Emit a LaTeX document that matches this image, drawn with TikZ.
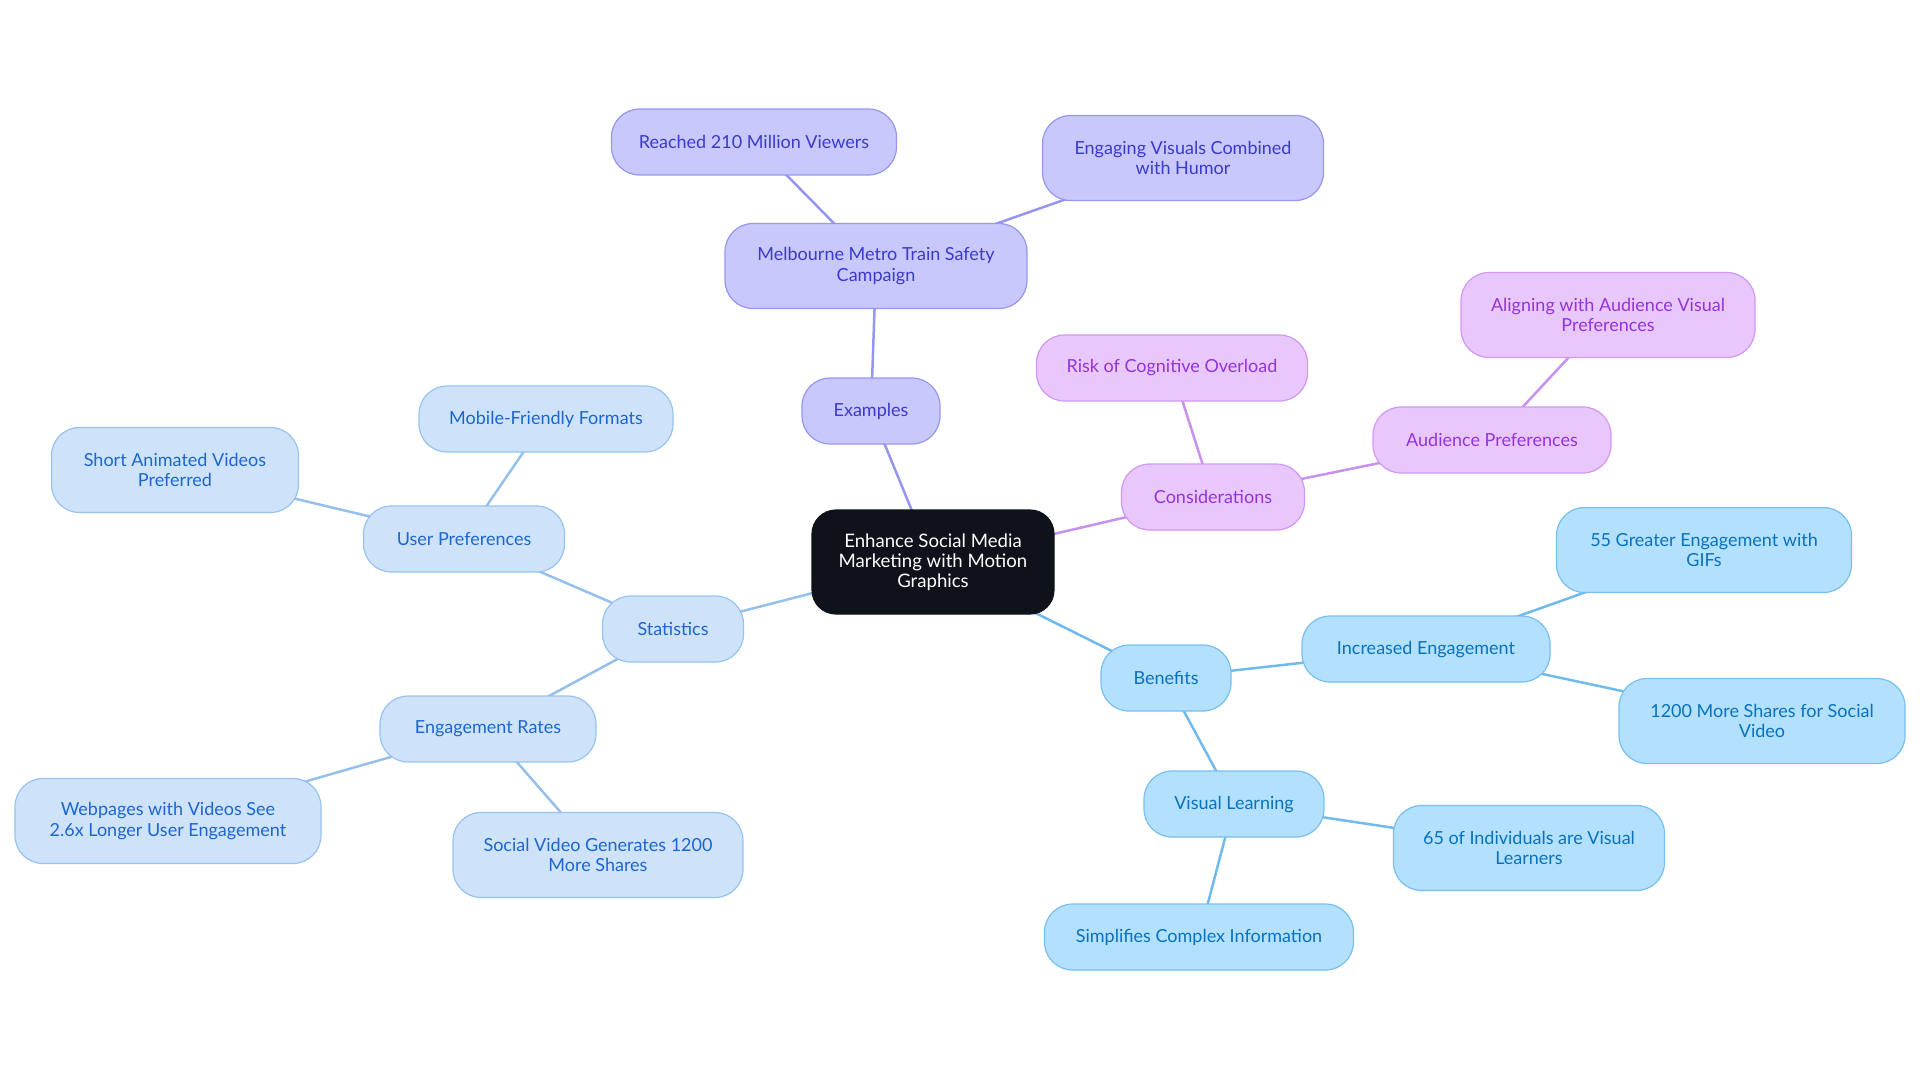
\documentclass[tikz,border=0pt]{standalone}
\usepackage{fontspec}
\setmainfont{Lato}
\usetikzlibrary{backgrounds}
\definecolor{statfill}{RGB}{206,227,250}
\definecolor{statdraw}{RGB}{150,195,240}
\definecolor{stattext}{RGB}{28,102,208}
\definecolor{statedge}{RGB}{150,192,236}
\definecolor{benfill}{RGB}{179,224,253}
\definecolor{bendraw}{RGB}{120,190,240}
\definecolor{bentext}{RGB}{8,114,190}
\definecolor{benedge}{RGB}{112,186,236}
\definecolor{exfill}{RGB}{200,200,252}
\definecolor{exdraw}{RGB}{150,150,240}
\definecolor{extext}{RGB}{58,58,205}
\definecolor{exedge}{RGB}{150,150,240}
\definecolor{consfill}{RGB}{232,200,252}
\definecolor{consdraw}{RGB}{210,150,245}
\definecolor{constext}{RGB}{150,50,220}
\definecolor{consedge}{RGB}{200,145,240}
\definecolor{darkfill}{RGB}{13,18,27}
\begin{document}
\begin{tikzpicture}[x=0.5pt,y=-0.5pt,
  box/.style={draw, line width=0.6pt, rounded corners=14pt, align=center, inner sep=0pt,
    font=\fontsize{9}{10.4}\selectfont},
  one/.style={minimum height=33pt},
  two/.style={minimum height=42.5pt},
  stat/.style={box, fill=statfill, draw=statdraw, text=stattext},
  ben/.style={box, fill=benfill, draw=bendraw, text=bentext},
  exa/.style={box, fill=exfill, draw=exdraw, text=extext},
  cons/.style={box, fill=consfill, draw=consdraw, text=constext},
  root/.style={box, fill=darkfill, draw=darkfill, text=white, rounded corners=12pt,
    font=\fontsize{9.3}{10}\selectfont},
  sedge/.style={draw=statedge, line width=1.25pt},
  bedge/.style={draw=benedge, line width=1.25pt},
  eedge/.style={draw=exedge, line width=1.25pt},
  cedge/.style={draw=consedge, line width=1.25pt}
]
\useasboundingbox (0,0) rectangle (1920,1083);
\node[root, minimum width=121pt, minimum height=52pt] (c) at (933,562) {Enhance Social Media\\Marketing with Motion\\Graphics};
% Examples
\node[exa, one, minimum width=69pt] (ex) at (871,411) {Examples};
\node[exa, two, minimum width=151pt] (mel) at (876,266) {Melbourne Metro Train Safety\\Campaign};
\node[exa, one, minimum width=142.5pt] (reach) at (754,142) {Reached 210 Million Viewers};
\node[exa, two, minimum width=140.5pt] (engv) at (1183,158) {Engaging Visuals Combined\\with Humor};
% Considerations
\node[cons, one, minimum width=91.5pt] (cons) at (1213,497) {Considerations};
\node[cons, one, minimum width=135.5pt] (risk) at (1172,368) {Risk of Cognitive Overload};
\node[cons, one, minimum width=119pt] (aud) at (1492,440) {Audience Preferences};
\node[cons, two, minimum width=147pt] (align) at (1608,315) {Aligning with Audience Visual\\Preferences};
% Benefits
\node[ben, one, minimum width=65pt] (ben) at (1166,678) {Benefits};
\node[ben, one, minimum width=124pt] (inc) at (1426,649) {Increased Engagement};
\node[ben, two, minimum width=147.5pt] (gifs) at (1704,550) {55 Greater Engagement with\\GIFs};
\node[ben, two, minimum width=143pt] (shares) at (1762,721) {1200 More Shares for Social\\Video};
\node[ben, one, minimum width=90pt] (vis) at (1234,804) {Visual Learning};
\node[ben, two, minimum width=135.5pt] (ind) at (1529,848) {65 of Individuals are Visual\\Learners};
\node[ben, one, minimum width=154.5pt] (simp) at (1199,937) {Simplifies Complex Information};
% Statistics
\node[stat, one, minimum width=70.5pt] (stat) at (673,629) {Statistics};
\node[stat, one, minimum width=100.5pt] (user) at (464,539) {User Preferences};
\node[stat, one, minimum width=127pt] (mob) at (546,419) {Mobile-Friendly Formats};
\node[stat, two, minimum width=123.5pt] (short) at (175,470) {Short Animated Videos\\Preferred};
\node[stat, one, minimum width=108pt] (er) at (488,729) {Engagement Rates};
\node[stat, two, minimum width=153pt] (web) at (168,821) {Webpages with Videos See\\2.6x Longer User Engagement};
\node[stat, two, minimum width=145pt] (svg) at (598,855) {Social Video Generates 1200\\More Shares};
% edges
\begin{scope}[on background layer]
\draw[eedge] (c.center) -- (ex.center);
\draw[eedge] (ex.center) -- (mel.center);
\draw[eedge] (mel.center) -- (reach.center);
\draw[eedge] (mel.center) -- (engv.center);
\draw[cedge] (c.center) -- (cons.center);
\draw[cedge] (cons.center) -- (risk.center);
\draw[cedge] (cons.center) -- (aud.center);
\draw[cedge] (aud.center) -- (align.center);
\draw[bedge] (c.center) -- (ben.center);
\draw[bedge] (ben.center) -- (inc.center);
\draw[bedge] (inc.center) -- (gifs.center);
\draw[bedge] (inc.center) -- (shares.center);
\draw[bedge] (ben.center) -- (vis.center);
\draw[bedge] (vis.center) -- (ind.center);
\draw[bedge] (vis.center) -- (simp.center);
\draw[sedge] (c.center) -- (stat.center);
\draw[sedge] (stat.center) -- (user.center);
\draw[sedge] (user.center) -- (mob.center);
\draw[sedge] (user.center) -- (short.center);
\draw[sedge] (stat.center) -- (er.center);
\draw[sedge] (er.center) -- (web.center);
\draw[sedge] (er.center) -- (svg.center);
\end{scope}
\end{tikzpicture}
\end{document}
